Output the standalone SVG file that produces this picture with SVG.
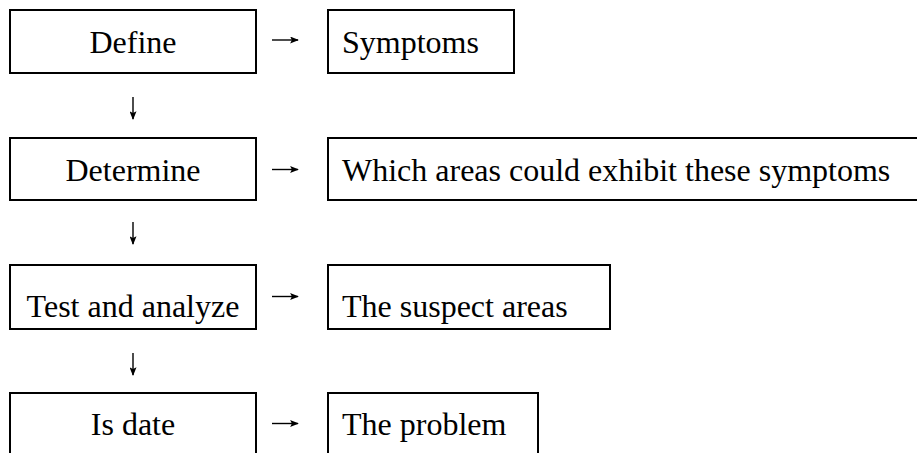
<svg xmlns="http://www.w3.org/2000/svg" width="917" height="453" viewBox="0 0 917 453">
<defs>
<style>
.box{fill:#fff;stroke:#000;stroke-width:2}
.t{font-family:"Liberation Serif","Times New Roman",serif;font-size:32px;fill:#000}
.c{text-anchor:middle}
.ln{stroke:#000;stroke-width:1.4;fill:none}
</style>
<marker id="ah" viewBox="0 0 10 8" refX="9" refY="4" markerWidth="9" markerHeight="7" markerUnits="userSpaceOnUse" orient="auto">
<path d="M0,0 L10,4 L0,8 L2,4 Z" fill="#000"/>
</marker>
</defs>
<rect width="917" height="453" fill="#fff"/>
<g id="define"><rect class="box" x="10" y="10" width="246" height="63"/><text class="t c" x="133" y="53">Define</text></g>
<g id="symptoms"><rect class="box" x="328" y="10" width="186" height="63"/><text class="t" x="342" y="53">Symptoms</text></g>
<g id="determine"><rect class="box" x="10" y="138" width="246" height="62"/><text class="t c" x="133" y="181">Determine</text></g>
<g id="areas"><rect class="box" x="328" y="138" width="620" height="62"/><text class="t" x="342" y="181">Which areas could exhibit these symptoms</text></g>
<g id="test"><rect class="box" x="10" y="265" width="246" height="64"/><text class="t c" x="133" y="317">Test and analyze</text></g>
<g id="suspect"><rect class="box" x="328" y="265" width="282" height="64"/><text class="t" x="342" y="317">The suspect areas</text></g>
<g id="isdate"><rect class="box" x="10" y="393" width="246" height="80"/><text class="t c" x="133" y="435">Is date</text></g>
<g id="problem"><rect class="box" x="328" y="393" width="210" height="80"/><text class="t" x="342" y="435">The problem</text></g>
<g id="connectors">
<path class="ln" d="M272,40 H298" marker-end="url(#ah)"/>
<path class="ln" d="M272,169.5 H298" marker-end="url(#ah)"/>
<path class="ln" d="M272,296.5 H298" marker-end="url(#ah)"/>
<path class="ln" d="M272,423.5 H298" marker-end="url(#ah)"/>
<path class="ln" d="M133,97 V119" marker-end="url(#ah)"/>
<path class="ln" d="M133,222 V244" marker-end="url(#ah)"/>
<path class="ln" d="M133,353 V375" marker-end="url(#ah)"/>
</g>
</svg>
